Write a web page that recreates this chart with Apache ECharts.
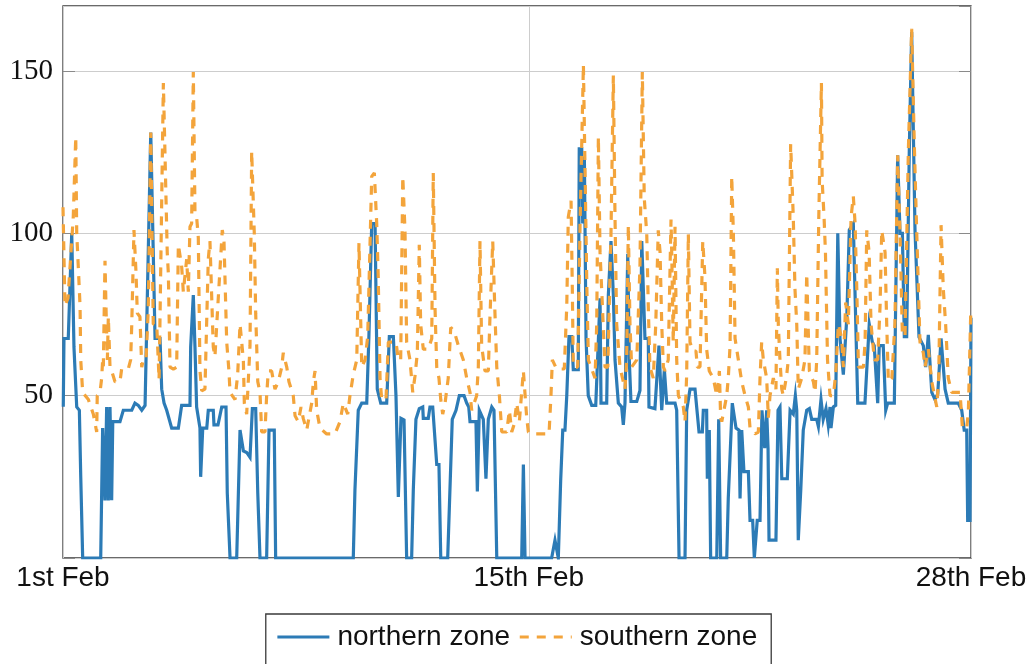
<!DOCTYPE html>
<html>
<head>
<meta charset="utf-8">
<script src="https://cdn.jsdelivr.net/npm/echarts@6/dist/echarts.min.js"></script>
<style>
html,body{margin:0;padding:0;background:#fff;}
#chart{width:1033px;height:664px;}
</style>
</head>
<body>
<div id="chart"></div>
<script>
// x values are hours since 1st Feb 00:00
const xTickHours = [0, 336, 655];
const xTickLabels = ['1st Feb', '15th Feb', '28th Feb'];
const yTickValues = [50, 100, 150];
const seriesNames = ['northern zone', 'southern zone'];

const northern = [[0.2,46.6],[0.7,67.6],[3.8,67.6],[6.3,100],[7.9,65],[9.9,46.5],[11.8,45.5],[12.8,25],[14.2,0],[27.2,0],[28.6,40],[30.3,17.7],[31.5,46.5],[32.7,17.7],[33.9,46.5],[35.1,17.8],[35.9,42],[41.1,42],[43.5,45.5],[49.6,45.5],[51.9,47.7],[54.3,47],[56.8,45.5],[59.2,47],[63.3,131],[66.4,67.6],[70.0,67.6],[71.2,52],[72.9,47.7],[74.8,45.5],[78.4,40],[83.2,40],[85.6,47],[91.6,47],[92.1,65],[94.0,81],[95.2,65],[96.4,46.5],[98.8,40],[99.3,25],[100.8,40],[103.7,40],[104.8,45.5],[108.4,45.5],[108.9,41],[111.8,41],[114.5,46.5],[117.6,46.5],[118.5,20],[119.2,20],[120.5,0],[125.3,0],[127.7,39.4],[130.1,33],[132.5,32.5],[134.9,31],[136.6,46],[139.0,46],[140.5,20],[142.1,0],[146.9,0],[148.6,39.4],[152.4,39.4],[153.4,0],[209.4,0],[210.6,21],[213.0,45.5],[215.5,47.7],[219.1,47.7],[220.7,68.7],[222.7,103],[225.1,103],[226.7,52],[229.2,47.7],[233.5,47.7],[235.4,68.2],[238.3,68.2],[240.2,50],[241.9,18.8],[243.8,43],[246.0,42.5],[247.9,0],[251.5,0],[252.7,21],[254.6,42.7],[257.0,46],[259.5,46.5],[259.9,43],[263.5,43],[264.7,46.5],[266.7,46.5],[269.6,28.8],[271.2,28.8],[272.5,0],[277.5,0],[278.7,15.5],[280.8,42.7],[283.5,45.5],[285.9,50],[289.3,50],[291.2,47.7],[292.7,46.5],[293.6,42],[297.9,42],[298.9,20.5],[300.3,45.5],[303.2,42.7],[305.1,24.4],[306.8,42.7],[309.3,46.5],[310.9,45.5],[312.9,0],[330.9,0],[332.1,28.8],[333.3,0],[352.5,0],[354.9,5.5],[357.3,0],[359.0,23.8],[360.5,39.4],[362.1,39.4],[363.4,50],[365.0,68.2],[367.0,68.2],[368.1,58],[371.7,58],[372.4,126],[374.2,126],[374.9,103],[376.1,123.6],[377.3,67.6],[378.9,50],[381.4,47],[384.3,47],[387.4,80],[388.1,47.7],[392.2,47.7],[393.4,81],[395.3,97.6],[397.0,81],[398.2,61],[400.6,47.7],[403.0,46.5],[404.2,41],[405.4,47.7],[407.4,93.7],[408.5,61],[409.7,48.2],[413.9,48.2],[416.2,51.6],[417.5,97.6],[419.8,67.6],[422.2,67.6],[422.7,46.5],[427.0,46],[429.9,65.4],[431.9,45.5],[433.8,58],[435.5,47.7],[441.5,47.7],[442.7,45.5],[444.4,0],[448.7,0],[449.9,45.5],[452.3,52],[455.9,52],[457.6,44.3],[458.8,38.8],[461.2,38.8],[461.9,45.5],[464.3,45.5],[464.8,24.4],[466.2,39.4],[467.2,0],[471.6,0],[473.0,42.7],[474.4,0],[478.8,0],[479.9,18.3],[482.8,47.7],[485.5,40],[487.6,39.4],[488.4,18.3],[489.6,39.4],[491.2,26.6],[494.4,26.6],[495.6,11.6],[497.5,11.6],[498.7,0],[499.9,0],[500.8,11.6],[502.8,11.6],[504.2,45.5],[506.2,33.8],[507.6,45.5],[508.6,33.8],[509.3,5.5],[514.3,5.5],[515.8,45.5],[517.2,46.5],[518.5,24.4],[522.5,24.4],[524.5,45.5],[526.8,44.3],[528.3,50],[529.3,45.5],[530.4,5.5],[532.2,21],[534.0,39.4],[536.5,45.5],[538.4,46],[540.1,42.7],[543.7,42.7],[544.9,40.5],[546.8,48.8],[548.4,42.7],[550.4,46],[552.0,41],[553.3,46.5],[554.0,40],[555.7,46.5],[557.4,47],[558.9,100],[560.5,67.6],[562.9,56.5],[565.4,74],[567.2,101],[570.1,103],[573.3,47.7],[578.5,47.7],[581.6,72],[583.8,66.5],[585.2,65.4],[587.7,47.7],[588.8,65.4],[591.7,65.4],[593.5,45.5],[594.9,47.7],[599.7,47.7],[602.1,124],[603.8,100],[605.5,100],[606.9,68.2],[608.6,68.2],[610.5,126],[612.2,162],[614.6,101],[617.5,68],[620.6,65.4],[622.3,58.8],[624.2,68.7],[626.7,51],[629.0,48.8],[631.0,50.5],[633.4,67.6],[636.3,52],[638.6,47.7],[645.8,47.7],[648.3,45.5],[650.1,39.4],[651.9,39.4],[652.6,11.6],[654.3,11.6],[655.0,74]];

const southern = [[0,108],[1.4,77.6],[3.6,80],[7.4,105],[9.2,129.7],[9.9,100],[11.0,90],[12.3,77.6],[12.8,61],[14.2,51],[18.3,48.8],[21.9,44.3],[24.3,38.8],[24.7,50],[26.7,51],[27.9,55.4],[28.6,61],[29.1,59],[30.3,91.5],[31.0,77.6],[32.0,61],[32.7,74.3],[33.9,58.8],[35.1,57.6],[37.5,54.3],[41.1,54.3],[42.3,58.2],[47.1,58.2],[48.8,61],[49.6,72],[51.2,101],[52.7,87.6],[53.6,75.4],[55.5,74.3],[56.8,58.8],[57.9,61],[59.9,61],[61.5,76.5],[63.3,131],[65.1,72],[67.6,72],[69.3,55],[70.2,80],[72.4,146.3],[75.2,94],[76.0,87.6],[77.2,58.8],[79.6,58.2],[82.0,58.8],[83.2,96.5],[85.6,89.8],[86.8,82],[89.2,92],[90.4,82],[91.6,102],[92.8,103],[94.0,149.7],[95.2,106.4],[96.4,105],[97.6,98.7],[98.8,57.6],[100.1,51.5],[102.4,52],[104.8,92],[106.0,97.6],[108.4,65],[109.6,62],[112.0,80],[114.9,101],[116.1,98],[118.1,66.5],[119.7,57.6],[120.5,51],[124.1,48.8],[126.0,56.5],[127.7,72],[128.9,72],[130.1,61],[130.8,47.7],[132.5,44.3],[133.7,44.3],[134.9,65.4],[136.1,125.3],[138.0,99.8],[139.0,75.4],[140.5,54.3],[142.1,51],[143.3,38.8],[145.7,38.8],[146.9,50],[148.1,57.6],[150.5,57.6],[152.9,52],[155.3,54.3],[157.8,58.8],[158.9,63.2],[161.4,58.8],[163.0,54.3],[166.1,50],[167.4,43.8],[169.7,42],[171.7,46.5],[173.3,43],[175.8,39.4],[179.4,47.7],[180.6,54.3],[181.8,57.6],[183.0,45.5],[185.4,40],[190.2,38.2],[196.2,38.2],[199.8,42],[202.2,47.7],[205.4,44.3],[207.0,50],[209.4,56.5],[211.9,61],[213.5,97],[215.5,58.8],[217.9,61],[219.8,68.2],[222.7,117.5],[224.6,118.6],[226.3,103],[227.4,86.5],[228.7,55.4],[229.9,48.8],[233.0,48.8],[234.7,66.5],[240.2,66.5],[241.9,61],[243.6,61],[245.1,117.5],[246.7,101],[247.9,66.5],[250.3,61],[252.3,51],[253.9,56],[255.6,63.2],[257.0,96.5],[258.0,72],[259.9,64.3],[263.5,64.3],[266.0,67.6],[267.1,118.6],[268.4,76.5],[269.6,58.8],[271.2,55.4],[272.5,48.8],[273.9,44.3],[275.6,47.7],[277.9,55.4],[279.7,71],[282.1,70],[285.2,65.4],[288.8,61],[291.2,55.4],[293.6,51],[294.8,45.5],[298.4,50],[299.6,58.8],[300.8,97.6],[302.0,65.4],[304.4,57.6],[306.8,57.6],[308.0,74.3],[310.0,97.6],[311.6,75.4],[312.9,58.8],[314.8,50],[316.5,38.8],[320.1,38.8],[322.0,45.5],[323.7,38.8],[325.3,41],[327.3,47.7],[329.2,42],[332.1,57.6],[334.5,43.2],[335.7,38.8],[339.3,38.2],[350.6,38.2],[352.0,50],[353.0,61],[356.1,58.2],[361.6,58.2],[363.4,77.6],[364.5,105],[366.5,110],[367.4,83],[368.1,58.8],[371.3,58.8],[373.0,103],[375.4,152],[377.1,105],[377.9,83],[379.0,61],[381.4,58.2],[383.8,55.4],[385.0,72],[386.2,129.7],[387.4,94.2],[389.1,77.6],[391.0,58.8],[393.0,58.8],[395.3,99.8],[397.0,148.6],[398.2,105],[399.4,72],[401.8,58.8],[405.4,52],[406.6,61],[407.8,102.5],[409.0,72],[410.2,58.8],[413.9,61],[416.2,89.8],[417.9,149.7],[419.3,110.9],[421.1,99.8],[422.2,77.6],[423.4,58.8],[425.8,55.4],[427.6,72],[429.4,100.9],[430.7,94.2],[431.9,72],[433.1,58.8],[434.3,57.6],[436.6,61],[438.6,104.2],[439.1,94.2],[440.2,66.5],[441.5,102],[442.7,61],[443.9,50],[447.5,46.5],[448.7,42],[449.9,56.5],[451.1,99.8],[452.3,66.5],[454.3,63.7],[456.6,63.7],[457.6,58.8],[459.5,58.8],[461.5,97.6],[463.1,86.5],[464.3,64.3],[466.2,57.6],[469.1,55.4],[471.6,50],[473.5,57.6],[474.4,43.2],[475.2,42],[478.8,50],[479.9,55.4],[481.2,65.4],[482.4,117.5],[483.6,99.8],[484.8,67.6],[487.2,61],[489.6,54.3],[492.0,50],[494.4,46.5],[495.6,40],[499.2,38.2],[501.6,38.8],[502.8,55.4],[504.0,66.5],[505.2,61],[507.6,55.4],[508.8,43.2],[510.0,50],[512.4,55.4],[514.3,52],[515.3,89.2],[516.0,72],[517.2,61],[518.5,52],[519.6,50],[522.1,56.5],[523.2,61],[524.9,127.5],[526.8,105],[528.0,83],[529.3,72],[530.4,52],[532.9,55.4],[535.2,61],[536.5,87.6],[538.4,57.6],[541.3,54.3],[542.5,51],[543.7,61],[545.2,105],[547.1,146.3],[547.6,116.4],[549.0,105],[550.0,94.2],[551.5,61],[553.3,50],[555.7,50],[557.4,56.5],[559.3,72],[561.7,67.6],[562.9,58.8],[564.6,78.7],[566.5,72],[568.5,105],[570.1,111.4],[571.4,103],[572.6,83],[573.8,58.8],[577.4,58.8],[578.6,66.5],[579.8,100.9],[581.5,94.2],[582.9,72],[585.3,61],[587.7,61],[589.4,77.6],[590.6,100.9],[593.0,94.2],[594.2,72],[595.4,54.3],[597.9,55.4],[600.1,72],[602.1,124],[603.8,99.8],[605.5,68.7],[607.4,68.2],[609.8,125.3],[612.2,163],[614.1,127.5],[615.8,101],[618.2,66.5],[620.6,63.2],[621.8,58.8],[624.2,64.3],[626.7,54.3],[630.3,46.5],[631.7,55.4],[633.4,102.5],[635.0,83],[636.7,72],[638.6,55.4],[641.1,51],[647.1,51],[648.8,40],[651.9,40],[653.1,45],[654.8,75.4]];

const chart = echarts.init(document.getElementById('chart'), null, {renderer: 'canvas'});

function xLabel(v) {
  for (let i = 0; i < xTickHours.length; i++) {
    if (Math.abs(v - xTickHours[i]) < 0.5) return xTickLabels[i];
  }
  return '';
}
function yLabel(v) {
  return yTickValues.indexOf(v) >= 0 ? String(v) : '';
}

const tickStyle = {show: true, inside: true, length: 12, lineStyle: {color: '#8a8a8a', width: 1}};

chart.setOption({
  animation: false,
  backgroundColor: '#ffffff',
  grid: {left: 63, right: 62, top: 6, bottom: 106, show: true, borderColor: '#3a3a3a', borderWidth: 1.3, backgroundColor: 'transparent'},
  legend: {
    data: seriesNames,
    top: 614,
    left: 'center',
    orient: 'horizontal',
    padding: [9, 14, 20, 10],
    itemWidth: 52,
    itemHeight: 14,
    itemGap: 8,
    borderColor: '#3a3a3a',
    borderWidth: 1.3,
    backgroundColor: '#ffffff',
    itemStyle: {opacity: 0},
    lineStyle: {width: 3.2},
    textStyle: {fontFamily: 'Liberation Sans', fontSize: 28, color: '#111', padding: [0, 0, 0, 3]}
  },
  xAxis: {
    type: 'value',
    min: 0,
    max: 655,
    interval: 336,
    axisLine: {show: false},
    axisTick: {show: false},
    splitLine: {show: true, lineStyle: {color: '#cdcdcd', width: 1}},
    axisLabel: {
      show: true,
      showMinLabel: true,
      showMaxLabel: true,
      hideOverlap: false,
      margin: 6,
      fontFamily: 'Liberation Sans',
      fontSize: 28,
      color: '#111',
      formatter: xLabel
    }
  },
  yAxis: [{
    type: 'value',
    min: 0,
    max: 170,
    interval: 50,
    position: 'left',
    axisLine: {show: false},
    axisTick: tickStyle,
    splitLine: {show: true, lineStyle: {color: '#cdcdcd', width: 1}},
    axisLabel: {margin: 10, fontFamily: 'Liberation Serif', fontSize: 29, color: '#111', formatter: yLabel, showMaxLabel: false}
  }, {
    type: 'value',
    min: 0,
    max: 170,
    interval: 50,
    position: 'right',
    axisLine: {show: false},
    axisTick: tickStyle,
    splitLine: {show: false},
    axisLabel: {show: false}
  }],
  series: [{
    name: seriesNames[0],
    type: 'line',
    data: northern,
    yAxisIndex: 0,
    symbol: 'none',
    showSymbol: false,
    z: 2,
    lineStyle: {color: '#2c7bb6', width: 3.2, join: 'miter'},
    itemStyle: {color: '#2c7bb6'}
  }, {
    name: seriesNames[1],
    type: 'line',
    data: southern,
    yAxisIndex: 0,
    symbol: 'none',
    showSymbol: false,
    z: 3,
    lineStyle: {color: '#f3a43b', width: 3.2, type: [9, 8]},
    itemStyle: {color: '#f3a43b'}
  }]
});
</script>
</body>
</html>
